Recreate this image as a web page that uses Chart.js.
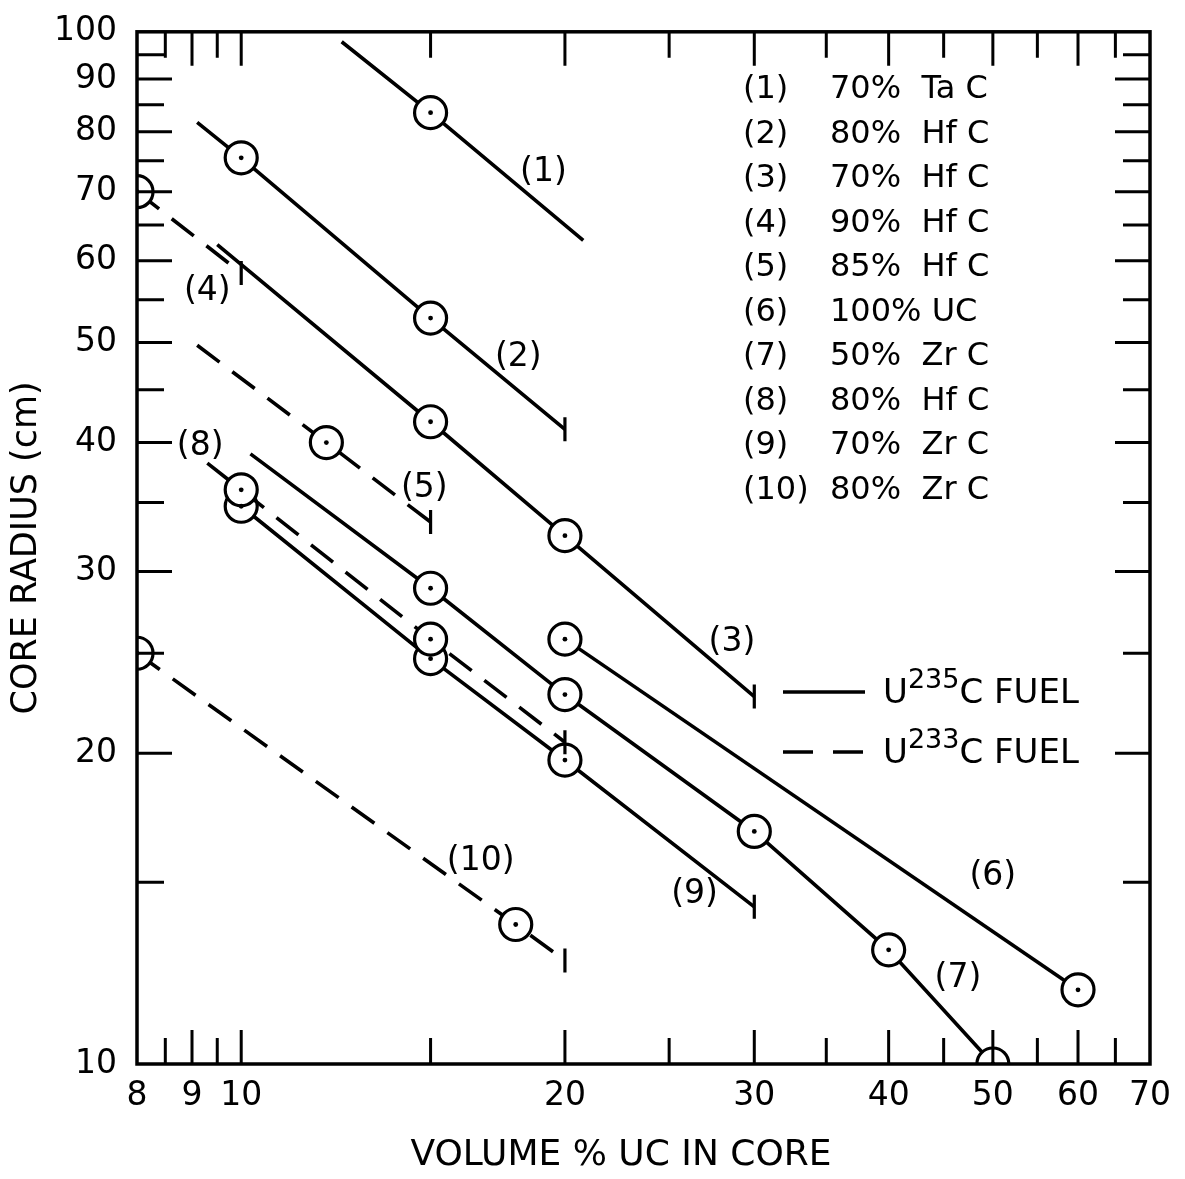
<!DOCTYPE html>
<html>
<head>
<meta charset="utf-8">
<script src="https://cdn.jsdelivr.net/npm/chart.js@4.4.0/dist/chart.umd.min.js"></script>
<style>
  body { margin: 0; background: #fff; }
  #wrap { width: 1185px; height: 1179px; }
</style>
</head>
<body>
<div id="wrap"><canvas id="coreChart"></canvas></div>
<script>
// tick values
const xTickLabels = [8, 9, 10, 20, 30, 40, 50, 60, 70];
const xLongTicks = [9, 10, 20, 30, 40, 50, 60];
const xShortTicks = [8.5, 9.5, 15, 25, 35, 45, 55, 65];
const yTickLabels = [10, 20, 30, 40, 50, 60, 70, 80, 90, 100];
const yLongTicks = [20, 30, 40, 50, 60, 70, 80, 90];
const yShortTicks = [15, 25, 35, 45, 55, 65, 75, 85, 95];

// curves: volume % UC -> core radius (cm), marks = indices of circled points
const c1x = [12.4, 15, 20.8];            const c1y = [97.8, 83.5, 62.8];          const c1Marks = [1];
const c2x = [9.1, 10, 15, 20];           const c2y = [81.7, 75.5, 52.8, 41.2];    const c2Marks = [1, 2];
const c3x = [9.5, 15, 20, 30];           const c3y = [62.2, 41.9, 32.5, 22.7];    const c3Marks = [1, 2];
const c4x = [8, 10];                     const c4y = [70, 58.4];                  const c4Marks = [0];
const c5x = [9.1, 12, 15];               const c5y = [49.7, 40, 33.5];            const c5Marks = [1];
const c6x = [20, 60];                    const c6y = [25.8, 11.8];                const c6Marks = [0, 1];
const c7x = [10.2, 15, 20, 30, 40, 50];  const c7y = [39, 28.9, 22.8, 16.8, 12.9, 10]; const c7Marks = [1, 2, 3, 4, 5];
const c8x = [9.3, 10, 15, 20];           const c8y = [38.2, 36.0, 25.8, 20.5];    const c8Marks = [1, 2];
const c9x = [10, 15, 20, 30];            const c9y = [34.7, 24.7, 19.7, 14.2];    const c9Marks = [0, 1, 2];
const c10x = [8, 18, 20];                const c10y = [25, 13.65, 12.6];          const c10Marks = [0, 1];

const mixes = ['70%  Ta C', '80%  Hf C', '70%  Hf C', '90%  Hf C', '85%  Hf C',
               '100% UC', '50%  Zr C', '80%  Hf C', '70%  Zr C', '80%  Zr C'];

const FONT = '"DejaVu Sans", "Liberation Sans", sans-serif';
const SOLID = [];
const DASH = [28, 16];

const series = [
  { tag: '(1)', x: c1x, y: c1y, marks: c1Marks, end: false, dash: SOLID },
  { tag: '(2)', x: c2x, y: c2y, marks: c2Marks, end: true, dash: SOLID },
  { tag: '(3)', x: c3x, y: c3y, marks: c3Marks, end: true, dash: SOLID },
  { tag: '(4)', x: c4x, y: c4y, marks: c4Marks, end: true, dash: DASH },
  { tag: '(5)', x: c5x, y: c5y, marks: c5Marks, end: true, dash: DASH },
  { tag: '(6)', x: c6x, y: c6y, marks: c6Marks, end: false, dash: SOLID },
  { tag: '(7)', x: c7x, y: c7y, marks: c7Marks, end: false, dash: SOLID },
  { tag: '(8)', x: c8x, y: c8y, marks: c8Marks, end: true, dash: DASH },
  { tag: '(9)', x: c9x, y: c9y, marks: c9Marks, end: true, dash: SOLID },
  { tag: '(10)', x: c10x, y: c10y, marks: c10Marks, end: true, dash: DASH }
];

function isEnd(s, i) { return s.end && i === s.x.length - 1; }

const datasets = series.map(s => ({
  label: s.tag,
  data: s.x.map((v, i) => ({ x: v, y: s.y[i] })),
  showLine: true,
  clip: 0,
  order: s.tag === '(8)' ? 0 : 1,
  borderColor: '#000',
  borderWidth: 3.6,
  borderDash: s.dash,
  pointStyle: c => isEnd(s, c.dataIndex) ? 'line' : 'circle',
  pointRotation: c => isEnd(s, c.dataIndex) ? 90 : 0,
  pointRadius: c => s.marks.includes(c.dataIndex) ? 16 : (isEnd(s, c.dataIndex) ? 12 : 0),
  pointBorderWidth: 3.2,
  pointBackgroundColor: '#fff',
  pointBorderColor: '#000'
}));

// little dot in the middle of each circle
const dotPts = [];
series.forEach(s => s.marks.forEach(i => dotPts.push({ x: s.x[i], y: s.y[i] })));
datasets.push({
  label: 'dots', data: dotPts, showLine: false, clip: 0, order: -1,
  pointRadius: 2.4, pointBackgroundColor: '#000', pointBorderWidth: 0
});

// curve tags placed in data units
const tagPos = [[19.1, 73.1], [18.1, 48.4], [28.6, 25.6], [9.3, 56], [14.8, 36.1],
                [50, 15.2], [46.4, 12.1], [9.16, 39.7], [26.4, 14.6], [16.7, 15.7]];

const decor = {
  id: 'decor',
  afterDatasetsDraw(chart) {
    const c = chart.ctx, a = chart.chartArea;
    const xs = chart.scales.x, ys = chart.scales.y;
    c.save();
    c.strokeStyle = '#000';
    c.lineWidth = 3.5;
    c.strokeRect(a.left, a.top, a.right - a.left, a.bottom - a.top);

    // inward ticks on all four sides
    c.lineWidth = 3;
    c.beginPath();
    const vt = (v, len) => {
      const p = xs.getPixelForValue(v);
      c.moveTo(p, a.bottom); c.lineTo(p, a.bottom - len);
      c.moveTo(p, a.top); c.lineTo(p, a.top + len);
    };
    const ht = (v, len) => {
      const p = ys.getPixelForValue(v);
      c.moveTo(a.left, p); c.lineTo(a.left + len, p);
      c.moveTo(a.right, p); c.lineTo(a.right - len, p);
    };
    xLongTicks.forEach(v => vt(v, 34));
    xShortTicks.forEach(v => vt(v, 26));
    yLongTicks.forEach(v => ht(v, 35));
    yShortTicks.forEach(v => ht(v, 27));
    c.stroke();

    // curve tags
    c.fillStyle = '#000';
    c.textAlign = 'center';
    c.textBaseline = 'middle';
    c.font = '33px ' + FONT;
    series.forEach((s, k) => {
      c.fillText(s.tag, xs.getPixelForValue(tagPos[k][0]), ys.getPixelForValue(tagPos[k][1]));
    });

    // x axis title
    c.font = '36px ' + FONT;
    c.fillText('VOLUME % UC IN CORE', 621, 1156);

    // composition list
    c.textAlign = 'left';
    c.font = '32px ' + FONT;
    mixes.forEach((m, k) => {
      const y = 90 + k * 44.5;
      c.fillText(series[k].tag, 743, y);
      c.fillText(m, 830, y);
    });

    // fuel key
    c.lineWidth = 3.5;
    c.beginPath();
    c.moveTo(783, 692); c.lineTo(865, 692);
    c.stroke();
    c.setLineDash([30, 20]);
    c.beginPath();
    c.moveTo(783, 752); c.lineTo(865, 752);
    c.stroke();
    c.setLineDash([]);
    const fuel = (iso, y) => {
      c.font = '34px ' + FONT;
      c.fillText('U', 883, y);
      let x = 883 + c.measureText('U').width;
      c.font = '27px ' + FONT;
      c.fillText(iso, x, y - 13);
      x += c.measureText(iso).width;
      c.font = '34px ' + FONT;
      c.fillText('C FUEL', x, y);
    };
    fuel('235', 694);
    fuel('233', 754);
    c.restore();
  }
};

const ctx = document.getElementById('coreChart');

new Chart(ctx, {
  type: 'scatter',
  data: { datasets: datasets },
  options: {
    responsive: true,
    maintainAspectRatio: false,
    animation: false,
    events: [],
    layout: { padding: { left: 0, right: 35, top: 22, bottom: 0 } },
    plugins: { legend: { display: false }, tooltip: { enabled: false } },
    scales: {
      x: {
        type: 'logarithmic', min: 8, max: 70,
        afterBuildTicks: s => { s.ticks = xTickLabels.map(v => ({ value: v })); },
        afterFit: s => { s.height = 115; },
        grid: { display: false },
        border: { display: false },
        ticks: {
          color: '#000', font: { family: FONT, size: 33 }, padding: 5,
          maxRotation: 0, autoSkip: false, callback: v => String(v)
        }
      },
      y: {
        type: 'logarithmic', min: 10, max: 100,
        afterBuildTicks: s => { s.ticks = yTickLabels.map(v => ({ value: v })); },
        afterFit: s => { s.width = 137; },
        grid: { display: false },
        border: { display: false },
        ticks: {
          color: '#000', font: { family: FONT, size: 33 }, padding: 12,
          autoSkip: false, callback: v => String(v)
        },
        title: {
          display: true, text: 'CORE RADIUS (cm)', color: '#000',
          font: { family: FONT, size: 35 }, padding: { top: 6, bottom: 0 }
        }
      }
    }
  },
  plugins: [decor]
});
</script>
</body>
</html>
